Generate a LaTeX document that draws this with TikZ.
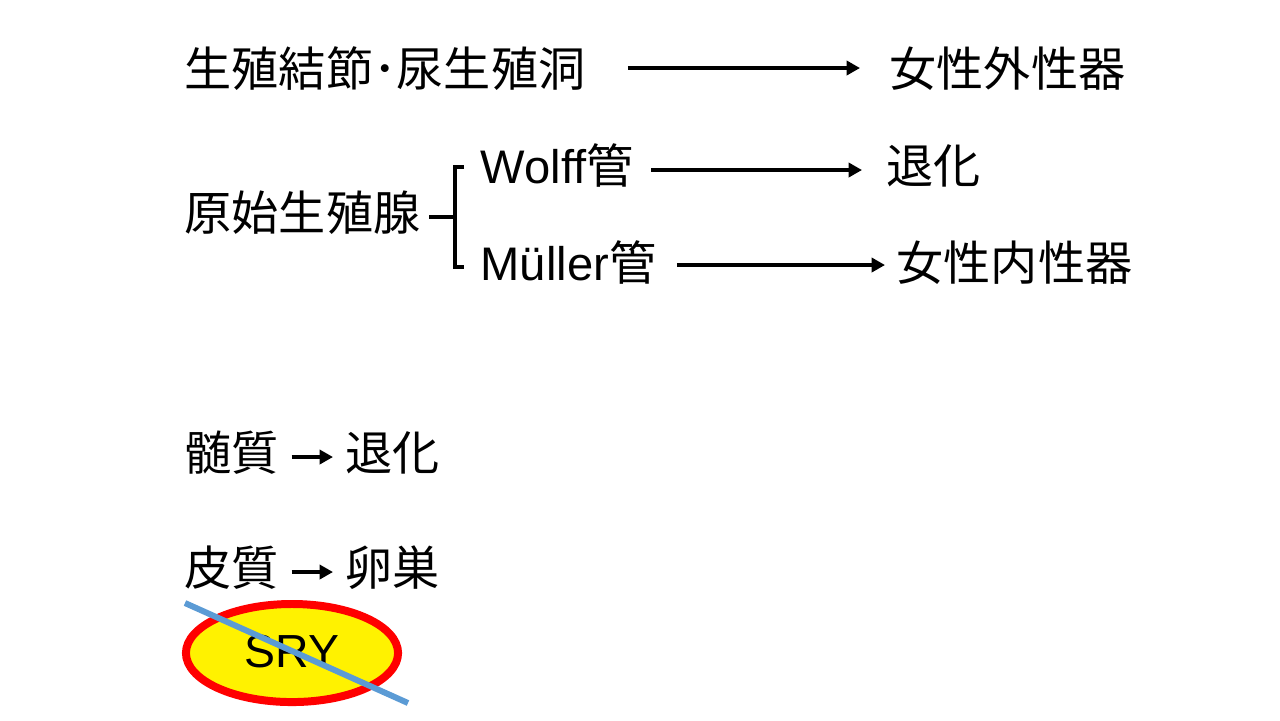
\documentclass[tikz,border=0pt]{standalone}
\usepackage{fontspec}
\setmainfont{Liberation Sans}
\newfontfamily\jp{Noto Sans CJK JP}
\usetikzlibrary{arrows.meta,calc,shapes.geometric}

\tikzset{
  lbl/.style={anchor=west, inner sep=0pt, text height=0.85em, text depth=0.1em,
    font=\fontsize{13.4pt}{16pt}\selectfont},
  arr/.style={line width=1.15pt, -{Triangle[length=3.8pt,width=4pt]}},
  brk/.style={line width=1.15pt},
}

\begin{document}
\begin{tikzpicture}[x=0.01cm,y=-0.01cm]
\useasboundingbox (0,0) rectangle (1280,720);
% external genitalia
\node[lbl] (sinus) at (184,73) {\jp 生殖結節･尿生殖洞};
\node[lbl] (extgen) at (889,73) {\jp 女性外性器};
\draw[arr] ($(sinus.east)+(42,-5)$) -- ($(extgen.west)+(-29,-5)$);
% ducts
\node[lbl] (gonad) at (184,217) {\jp 原始生殖腺};
\node[lbl] (wolff) at (480,170) {Wolff{\jp 管}};
\node[lbl] (muller) at (480,267) {Müller{\jp 管}};
\node[lbl] (regress) at (886,170) {\jp 退化};
\node[lbl] (intgen) at (896,267) {\jp 女性内性器};
\draw[brk] ($(wolff.west)+(-16,-3)$) -- ($(wolff.west)+(-25,-3)$)
  -- ($(muller.west)+(-25,0)$) -- ($(muller.west)+(-16,0)$);
\draw[brk] ($(gonad.east)+(8,0)$) -- ($(gonad.east)+(36,0)$);
\draw[arr] ($(wolff.east)+(17,0)$) -- ($(regress.west)+(-24,0)$);
\draw[arr] ($(muller.east)+(20,-2)$) -- ($(intgen.west)+(-11,-2)$);
% medulla / cortex
\node[lbl] (medulla) at (184,457) {\jp 髄質};
\node[lbl] (regress2) at (345,457) {\jp 退化};
\draw[arr] ($(medulla.east)+(12,0)$) -- ($(regress2.west)+(-12,0)$);
\node[lbl] (cortex) at (184,572) {\jp 皮質};
\node[lbl] (ovary) at (345,572) {\jp 卵巣};
\draw[arr] ($(cortex.east)+(12,0)$) -- ($(ovary.west)+(-12,0)$);
% SRY crossed out
\node[ellipse, draw=red, fill=yellow, line width=2.27pt, minimum width=2.12cm,
  minimum height=0.98cm, inner sep=0pt, text height=0.85em, text depth=0pt,
  font=\fontsize{13.2pt}{16pt}\selectfont]
  (sry) at (292,653) {SRY};
\draw[line width=1.7pt, color={rgb,255:red,91;green,155;blue,213}]
  ($(sry.center)+(-107,-50)$) -- ($(sry.center)+(116,50)$);
\end{tikzpicture}
\end{document}
